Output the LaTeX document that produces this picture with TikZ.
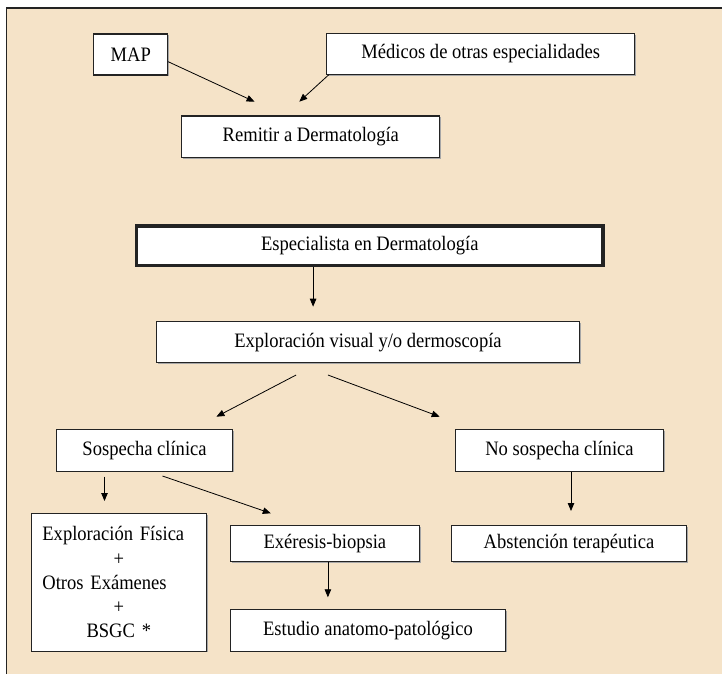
\documentclass[tikz,border=0pt]{standalone}
\usepackage{fontspec}
\setmainfont[FakeStretch=0.905]{Liberation Serif}
\usetikzlibrary{arrows.meta,shadows}
\definecolor{bgbeige}{RGB}{245,227,200}
\definecolor{edge}{RGB}{35,35,35}
\tikzset{
  box/.style={draw=edge, fill=white, line width=1.1pt, inner sep=0pt,
    font=\fontsize{20.5}{24.2}\selectfont,
    drop shadow={shadow xshift=1.3pt, shadow yshift=-1.3pt, fill=black!35, opacity=1}},
  thickbox/.style={box, line width=3.6pt},
  arr/.style={draw=black, line width=0.8pt, -{Triangle[length=8pt,width=6.5pt]}},
}
\begin{document}
\begin{tikzpicture}[x=1pt,y=-1pt]
\useasboundingbox (0,0) rectangle (722,674);
\fill[bgbeige] (6.5,8) rectangle (722,674);
\draw[edge, line width=1.4pt] (6.5,674) -- (6.5,8) -- (722,8);

\node[box, minimum width=73.7pt, minimum height=41pt] (map) at (130.75,54.5) {MAP};
\node[box, minimum width=307.6pt, minimum height=41pt] (med) at (480.7,53.8) {Médicos de otras especialidades};
\node[box, minimum width=257.8pt, minimum height=41.3pt] (rem) at (310.8,136.7) {Remitir a Dermatología};
\node[thickbox, minimum width=466.2pt, minimum height=39.8pt] (esp) at (369.75,245.7) {Especialista en Dermatología};
\node[box, minimum width=422.7pt, minimum height=41pt] (expv) at (367.95,342.2) {Exploración visual y/o dermoscopía};
\node[box, minimum width=175.9pt, minimum height=41.7pt] (sos) at (144.55,450.2) {Sospecha clínica};
\node[box, minimum width=208.1pt, minimum height=41.7pt] (nos) at (559.45,450.2) {No sospecha clínica};
\node[box, minimum width=175pt, minimum height=137.7pt, align=left, text width=152.8pt] (expf) at (118.8,582.2)
  {Exploración Física\\\makebox[152.8pt]{+}\\Otros Exámenes\\\makebox[152.8pt]{+}\\\makebox[152.8pt]{BSGC *}};
\node[box, minimum width=189.3pt, minimum height=36.4pt] (exe) at (324.85,543.5) {Exéresis-biopsia};
\node[box, minimum width=235.3pt, minimum height=36.4pt] (abs) at (568.95,543.5) {Abstención terapéutica};
\node[box, minimum width=275.4pt, minimum height=41.7pt] (est) at (367.9,630.2) {Estudio anatomo-patológico};

\coordinate (t1) at (254.6,101.7);
\coordinate (t2) at (299.3,101.7);
\coordinate (t3) at (313.1,306.7);
\coordinate (s4) at (296.1,375);
\coordinate (t4) at (216.4,416.7);
\coordinate (s5) at (327.9,375);
\coordinate (t5) at (439.7,416.7);
\coordinate (s6) at (104.5,476.7);
\coordinate (t6) at (104.5,501);
\coordinate (s7) at (162.5,476);
\coordinate (t7) at (270.8,513.3);
\coordinate (t8) at (571,511);
\coordinate (t9) at (327.9,597.3);

\draw[arr] ([yshift=-7.2pt]map.east) -- (t1);
\draw[arr] ([xshift=2.3pt]med.south west) -- (t2);
\draw[arr] (esp.south -| t3) -- (t3);
\draw[arr] (s4) -- (t4);
\draw[arr] (s5) -- (t5);
\draw[arr] (s6) -- (t6);
\draw[arr] (s7) -- (t7);
\draw[arr] (nos.south -| t8) -- (t8);
\draw[arr] (exe.south -| t9) -- (t9);
\end{tikzpicture}
\end{document}
